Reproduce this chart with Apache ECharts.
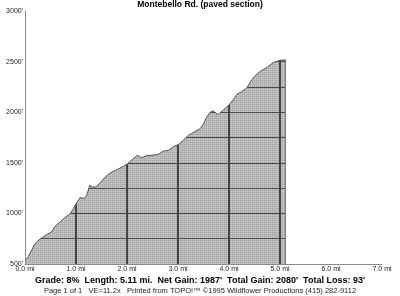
<!DOCTYPE html>
<html><head><meta charset="utf-8">
<script src="https://cdn.jsdelivr.net/npm/echarts@6/dist/echarts.min.js"></script>
<style>html,body{margin:0;padding:0;background:#fff}#c{width:400px;height:296px}</style>
</head><body><div id="c"></div>
<script>
// Distance along route (miles) and elevation (feet)
const miles = [0, 0.065, 0.18, 0.23, 0.33, 0.43, 0.52, 0.59, 0.69, 0.78, 0.88, 0.95, 1.01, 1.08, 1.16, 1.21, 1.27, 1.33, 1.39, 1.47, 1.57, 1.67, 1.80, 1.93, 2.01, 2.12, 2.20, 2.29, 2.39, 2.45, 2.61, 2.71, 2.81, 2.91, 3.01, 3.10, 3.20, 3.33, 3.43, 3.50, 3.56, 3.63, 3.69, 3.75, 3.79, 3.89, 3.99, 4.08, 4.16, 4.25, 4.35, 4.41, 4.51, 4.61, 4.74, 4.87, 5.01, 5.07, 5.11];
const elevation = [530, 572, 687, 720, 759, 792, 818, 874, 916, 959, 992, 1048, 1103, 1156, 1146, 1179, 1277, 1261, 1261, 1300, 1359, 1399, 1432, 1464, 1491, 1540, 1573, 1550, 1573, 1573, 1582, 1615, 1622, 1661, 1681, 1720, 1769, 1809, 1835, 1884, 1950, 1999, 2015, 1989, 1976, 2022, 2065, 2121, 2180, 2202, 2239, 2294, 2360, 2402, 2442, 2491, 2514, 2515, 2517];
const gridMiles = [1, 2, 3, 4, 5];
const gridElev = [750, 1000, 1250, 1500, 1750, 2000, 2250, 2500];
const title = 'Montebello Rd. (paved section)';
const statsText = "Grade: 8%  Length: 5.11 mi.  Net Gain: 1987'  Total Gain: 2080'  Total Loss: 93'";
const footerText = 'Page 1 of 1   VE=11.2x   Printed from TOPO!\u2122 \u00a91995 Wildflower Productions (415) 282-9112';

const profile = miles.map((m, i) => [m, elevation[i]]);
const lastMile = miles[miles.length - 1];
const lastElev = elevation[elevation.length - 1];

// dotted gray fill pattern
const pc = document.createElement('canvas');
pc.width = 2; pc.height = 2;
const px = pc.getContext('2d');
px.fillStyle = '#c8c8c8'; px.fillRect(0, 0, 2, 2);
px.fillStyle = '#a2a2a2'; px.fillRect(0, 0, 1, 1);
px.fillStyle = '#b8b8b8'; px.fillRect(1, 0, 1, 1); px.fillRect(0, 1, 1, 1);

const gridLines = [];
gridElev.forEach(e => gridLines.push([{coord: [0, e], lineStyle: {width: 1, color: '#4a4a4a', type: 'solid'}}, {coord: [lastMile, e]}]));
gridMiles.forEach(m => gridLines.push([{coord: [m, 500], lineStyle: {width: 2, color: '#444', type: 'solid'}}, {coord: [m, 3000]}]));
gridLines.push([{coord: [lastMile, 500], lineStyle: {width: 1, color: '#777', type: 'solid'}}, {coord: [lastMile, lastElev]}]);

const chart = echarts.init(document.getElementById('c'), null, {renderer: 'canvas'});
chart.setOption({
  animation: false,
  backgroundColor: '#fff',
  title: {
    text: title, left: 'center', top: 0, padding: 0, z: 20,
    textStyle: {fontFamily: 'Liberation Sans', fontSize: 8.5, fontWeight: 'bold', color: '#000', lineHeight: 10}
  },
  grid: {left: 25, right: 18, top: 11, bottom: 32},
  xAxis: {
    type: 'value', min: 0, max: 7, interval: 1, z: 12,
    axisLine: {lineStyle: {color: '#8a8a8a', width: 1}},
    axisTick: {show: false},
    splitLine: {show: false},
    axisLabel: {margin: 2, fontFamily: 'Liberation Sans', fontSize: 7, color: '#222',
      formatter: v => v.toFixed(1) + ' mi'}
  },
  yAxis: {
    type: 'value', min: 500, max: 3000, interval: 500, z: 12,
    axisLine: {show: true, lineStyle: {color: '#8a8a8a', width: 1}},
    axisTick: {show: false},
    splitLine: {show: false},
    axisLabel: {margin: 2, fontFamily: 'Liberation Sans', fontSize: 7, color: '#222',
      formatter: v => v + "'"}
  },
  series: [
    {
      type: 'line', data: profile, symbol: 'none', silent: true, z: 2,
      lineStyle: {width: 0, opacity: 0},
      areaStyle: {color: {image: pc, repeat: 'repeat'}, opacity: 1, origin: 'start'},
      markLine: {silent: true, symbol: 'none', label: {show: false}, z: 5,
        emphasis: {disabled: true}, data: gridLines}
    },
    {
      type: 'line', data: profile, symbol: 'none', silent: true, z: 10,
      lineStyle: {width: 1, color: '#505050'},
      areaStyle: {color: '#fff', opacity: 1, origin: 'end'}
    }
  ],
  graphic: [
    {type: 'text', left: 'center', top: 276, z: 20, style: {text: statsText,
      font: 'bold 9px "Liberation Sans"', fill: '#000'}},
    {type: 'text', left: 'center', top: 287, z: 20, style: {text: footerText,
      font: '7.5px "Liberation Sans"', fill: '#222'}}
  ]
});
</script></body></html>
